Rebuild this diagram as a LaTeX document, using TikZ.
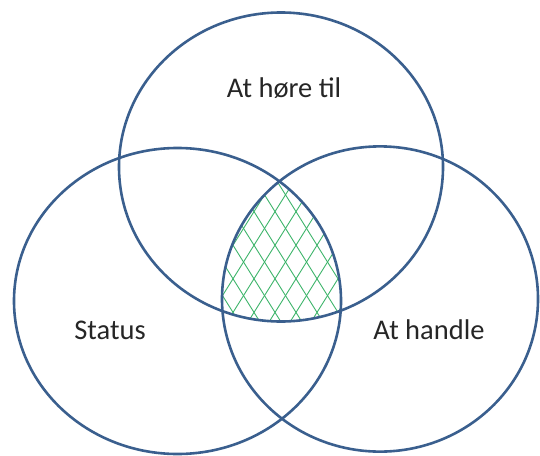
\documentclass[tikz,border=0pt]{standalone}
\usepackage{fontspec}
\setmainfont{Carlito}
\definecolor{vennblue}{HTML}{3A5F8E}
\definecolor{hatchgreen}{HTML}{3DB46A}
\definecolor{txt}{HTML}{262626}
\begin{document}
\begin{tikzpicture}[x=1pt,y=-1pt,
  ring/.style={draw=vennblue,line width=2.6pt},
  hatch/.style={draw=hatchgreen,line width=0.9pt},
  lbl/.style={font=\fontsize{28.5}{30}\selectfont,text=txt,anchor=base,inner sep=0pt}]
\useasboundingbox (0,0) rectangle (540,455);
\begin{scope}
  \clip (281,167) ellipse [x radius=162,y radius=154.5];
  \clip (177.5,301) ellipse [x radius=163.5,y radius=153];
  \clip (380,299) ellipse [x radius=158,y radius=152.6];
  \foreach \i in {0,...,22} {
    \draw[hatch] (60+21*\i,170) -- ++(115,184);
    \draw[hatch] (70+21*\i,170) -- ++(-115,184);
  }
\end{scope}
\draw[ring] (281,167) ellipse [x radius=162,y radius=154.5];
\draw[ring] (177.5,301) ellipse [x radius=163.5,y radius=153];
\draw[ring] (380,299) ellipse [x radius=158,y radius=152.6];
\node[lbl] (top) at (284,97) {At høre til};
\node[lbl] (left) at (110,339) {Status};
\node[lbl] (right) at (429,339) {At handle};
\end{tikzpicture}
\end{document}
